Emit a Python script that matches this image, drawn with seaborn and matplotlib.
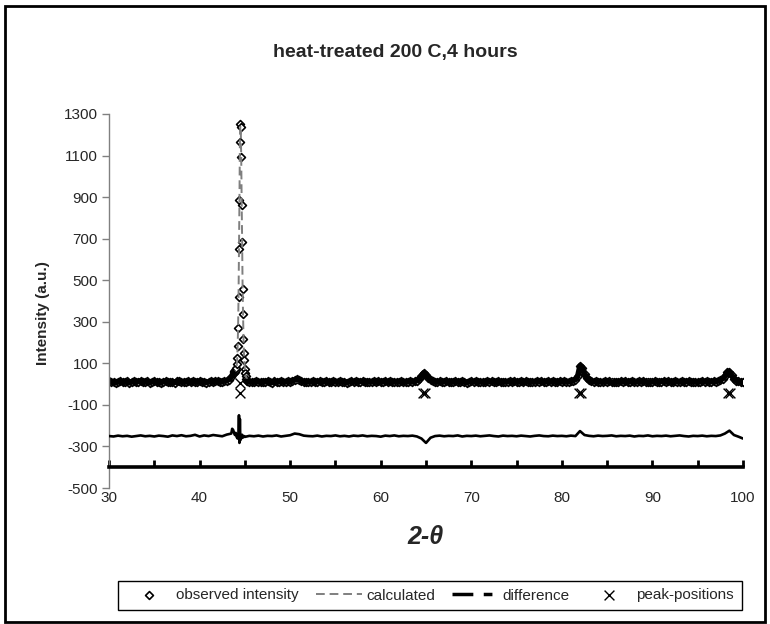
import matplotlib
matplotlib.use("Agg")
import matplotlib.pyplot as plt
from matplotlib.lines import Line2D
from matplotlib.patches import Rectangle
import seaborn as sns
import numpy as np
import pandas as pd

sns.set_style("white")
plt.rcParams['font.family'] = ['Liberation Sans', 'DejaVu Sans']
plt.rcParams['axes.unicode_minus'] = False

# ---- observed intensity ----
# background before the main peak, 30.00 .. 43.75 every 0.25
obs_bg1_start, obs_bg1_step = 30.0, 0.25
obs_bg1 = [14, 9, 12, 7, 11, 15, 8, 10, 13, 6, 11, 14, 9, 12, 16, 8,
           10, 13, 7, 12, 15, 9, 11, 6, 12, 14, 10, 8, 11, 7, 13, 16,
           9, 12, 10, 14, 8, 13, 11, 9, 15, 10, 12, 7, 11, 14, 9, 13,
           16, 10, 12, 15, 17, 22, 34, 52]

# main (110) peak
obs_peak_x = [43.80, 43.85, 43.90, 43.95, 44.00, 44.05, 44.10, 44.15, 44.20, 44.25,
              44.30, 44.35, 44.40, 44.45, 44.50, 44.55, 44.60, 44.65, 44.70, 44.75,
              44.80, 44.85, 44.90, 44.95, 45.00, 45.05, 45.10, 45.15, 45.20]
obs_peak_y = [58, 62, 66, 60, 70, 78, 95, 126, 184, 270,
              420, 650, 886, 1165, 1252, 1237, 1093, 862, 684, 458,
              337, 217, 150, 116, 72, 55, 38, 24, 16]

# rest of the pattern, 45.25 .. 100.00 every 0.25
obs_bg2_start, obs_bg2_step = 45.25, 0.25
obs_bg2 = [13, 10, 12,
           9, 14, 11, 8, 12, 10, 15, 11, 7, 13, 10, 12, 14, 9, 11, 13,
           10, 15, 21, 24, 20, 14, 11, 9, 12, 10, 14, 8, 11, 13, 9, 12,
           15, 10, 8, 13, 11, 9, 14, 10, 12, 7, 11, 15, 9, 13, 10, 12,
           14, 8, 12, 10, 11, 13, 9, 14, 10, 12, 15, 8, 13, 9, 11, 12,
           10, 14, 8, 11, 12, 15, 10, 13, 16, 24, 40, 55, 46, 30, 19, 14,
           11, 9, 13, 10, 12, 14, 8, 11, 10, 13, 12, 9, 14, 11, 7, 12,
           13, 10, 15, 9, 11, 12, 8, 14, 10, 13, 11, 9, 15, 8, 12, 10,
           12, 14, 9, 13, 11, 10, 13, 8, 14, 12, 9, 11, 10, 15, 12, 13,
           9, 11, 14, 10, 13, 12, 8, 15, 11, 14, 10, 12, 13, 16, 22, 38,
           88, 78, 48, 28, 18, 14, 11, 13, 10, 12, 9, 14, 11, 13, 10, 8,
           12, 9, 14, 11, 13, 10, 12, 15, 9, 11, 13, 10, 14, 12, 8, 11,
           10, 13, 12, 9, 12, 15, 10, 13, 11, 8, 14, 12, 10, 13, 9, 11,
           14, 11, 12, 10, 9, 12, 15, 11, 13, 10, 11, 14, 12, 15, 18, 26,
           38, 56, 60, 42, 26, 17, 13, 10,
           8]

# ---- calculated profile ----
calc_x = [30, 43.0, 43.5, 43.8, 44.0, 44.1, 44.15, 44.2, 44.25, 44.3, 44.35, 44.4,
          44.45, 44.5, 44.55, 44.6, 44.65, 44.7, 44.75, 44.8, 44.85, 44.9, 44.95,
          45.0, 45.1, 45.3, 45.6, 64.0, 64.4, 64.75, 65.1, 65.5, 81.3, 81.7, 82.0,
          82.3, 82.7, 97.6, 98.0, 98.4, 98.8, 99.3, 100]
calc_y = [11, 16, 40, 55, 65, 88, 120, 178, 265, 415, 640, 870,
          1150, 1245, 1230, 1085, 870, 690, 465, 340, 222, 150, 112,
          74, 40, 18, 12, 14, 28, 60, 36, 14, 16, 30, 92,
          60, 20, 14, 30, 64, 34, 13, 10]

# ---- difference (offset to -250) ----
diff_bg1_start, diff_bg1_step = 30.0, 0.5
diff_bg1 = [-250, -252, -248, -251, -249, -253, -250, -247, -251, -249, -252, -248,
            -250, -253, -247, -250, -246, -251, -249, -244, -252, -247, -250, -245,
            -248, -251, -243, -238]
diff_peak_x = [43.6, 43.7, 43.8, 43.9, 44.0, 44.1, 44.2, 44.3, 44.35, 44.4, 44.45,
               44.5, 44.55, 44.6, 44.7, 44.8, 44.9, 45.0]
diff_peak_y = [-215, -220, -232, -245, -235, -255, -262, -240, -150, -283, -168,
               -270, -250, -262, -244, -257, -250, -254]
diff_bg2_start, diff_bg2_step = 45.5, 0.5
diff_bg2 = [-249, -251, -248, -252, -249, -250, -247, -252, -249, -246,
            -238, -241, -248, -250, -251, -248, -252, -249, -250, -247,
            -251, -249, -252, -248, -250, -247, -251, -249, -250, -253,
            -248, -250, -247, -251, -249, -250, -248, -252, -262, -283,
            -258, -250, -248, -251, -249, -250, -247, -252, -249, -250,
            -248, -251, -249, -247, -250, -252, -248, -250, -249, -251,
            -248, -250, -252, -249, -247, -250, -251, -248, -250, -249,
            -251, -248, -250, -226, -245, -249, -251, -248, -250, -249,
            -247, -251, -249, -250, -248, -252, -249, -250, -247, -251,
            -249, -250, -248, -251, -249, -247, -250, -252, -249, -250,
            -248, -251, -249, -250, -247, -238, -224, -245, -253, -262]

# ---- peak positions ----
peak_x = [44.5, 44.5, 64.68, 64.88, 81.93, 82.15, 98.33, 98.55]
peak_y = [3, -45, -45, -45, -45, -45, -45, -45]

# build tables
bg1_x = obs_bg1_start + obs_bg1_step * np.arange(len(obs_bg1))
bg2_x = obs_bg2_start + obs_bg2_step * np.arange(len(obs_bg2))
obs = pd.DataFrame({
    "two_theta": np.concatenate([bg1_x, obs_peak_x, bg2_x]),
    "intensity": np.concatenate([obs_bg1, obs_peak_y, obs_bg2]),
})
diff = pd.DataFrame({
    "two_theta": np.concatenate([
        diff_bg1_start + diff_bg1_step * np.arange(len(diff_bg1)),
        diff_peak_x,
        diff_bg2_start + diff_bg2_step * np.arange(len(diff_bg2))]),
    "intensity": np.concatenate([diff_bg1, diff_peak_y, diff_bg2]),
})

fig = plt.figure(figsize=(7.7, 6.24), dpi=100)
ax = fig.add_axes([109 / 770, 1 - 488 / 624, (743 - 109) / 770, (488 - 114) / 624])

sns.scatterplot(data=obs, x="two_theta", y="intensity", ax=ax, marker="D", s=16,
                facecolor="white", edgecolor="black", linewidth=1.2,
                label="observed intensity", zorder=2)
sns.lineplot(x=calc_x, y=calc_y, ax=ax, color="#7f7f7f", linewidth=1.4,
             linestyle=(0, (4.5, 2.5)), label="calculated", zorder=2.2,
             estimator=None, sort=False)
# the densely packed markers of the background merge into a thick black band
for bx, by in [(bg1_x, obs_bg1), (bg2_x, obs_bg2)]:
    sns.lineplot(x=bx, y=by, ax=ax, color="black", linewidth=4.0,
                 estimator=None, sort=False, zorder=2.5)
sns.lineplot(data=diff, x="two_theta", y="intensity", ax=ax, color="black",
             linewidth=1.9, label="difference", zorder=3, estimator=None, sort=False)
sns.scatterplot(x=peak_x, y=peak_y, ax=ax, marker="x", s=50, color="black",
                linewidth=1.0, label="peak-positions", zorder=4)

ax.set_xlim(30, 100)
ax.set_ylim(-500, 1300)
ax.set_yticks(np.arange(-500, 1301, 200))
ax.set_xticks(np.arange(30, 101, 10))
ax.set_xticks(np.arange(35, 100, 10), minor=True)
ax.set_xlabel("")
ax.set_ylabel("")

for s in ["top", "right"]:
    ax.spines[s].set_visible(False)
ax.spines["left"].set_color("#808080")
ax.spines["left"].set_linewidth(1)
ax.spines["bottom"].set_position(("data", -400))
ax.spines["bottom"].set_color("black")
ax.spines["bottom"].set_linewidth(2.6)

ax.tick_params(axis="y", direction="out", length=5, width=1, color="#808080",
               labelsize=11, pad=3, left=True)
ax.tick_params(axis="x", which="both", direction="in", length=5, width=2,
               color="black", labelsize=11, pad=17, bottom=True)

# legend below
handles, labels = ax.get_legend_handles_labels()
keep = [labels.index(n) for n in ["observed intensity", "calculated", "difference", "peak-positions"]]
handles = [handles[i] for i in keep]
labels = [labels[i] for i in keep]
handles[2] = Line2D([], [], color="black", linewidth=2.5, linestyle=(0, (6, 3, 2.5, 3)))
if ax.get_legend() is not None:
    ax.get_legend().remove()
fig.legend(handles, labels, loc="center", bbox_to_anchor=(430 / 770, 1 - 595.5 / 624),
           ncol=4, fontsize=11, frameon=True, fancybox=False, edgecolor="black",
           framealpha=1, handlelength=3, handletextpad=0.3, columnspacing=1.1,
           borderpad=0.5, markerscale=1.0)

fig.text(395 / 770, 1 - 52 / 624, "heat-treated 200 C,4 hours", ha="center",
         va="center", fontsize=14, fontweight="bold")
fig.text(43 / 770, 1 - 313 / 624, "Intensity (a.u.)", ha="center", va="center",
         rotation=90, fontsize=11, fontweight="bold")
fig.text(426 / 770, 1 - 537 / 624, "2-\u03b8", ha="center", va="center",
         fontsize=18, fontweight="bold", fontstyle="italic")

fig.patches.append(Rectangle((5 / 770, 2 / 624), 760 / 770, 616 / 624,
                             transform=fig.transFigure, fill=False,
                             edgecolor="black", linewidth=2))

fig.savefig("out.png", dpi=100)
